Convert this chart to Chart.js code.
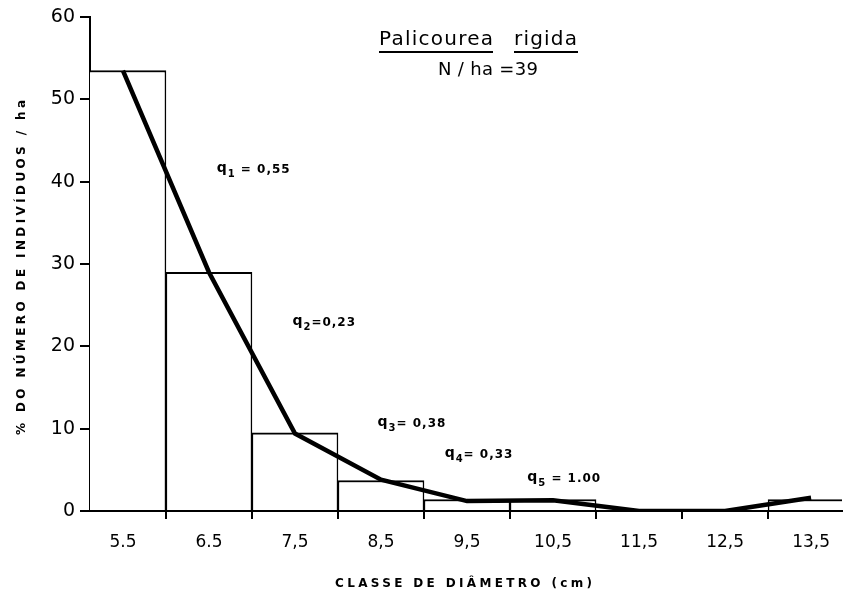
<!DOCTYPE html>
<html>
<head>
<meta charset="utf-8">
<script src="https://cdn.jsdelivr.net/npm/chart.js@4.4.0/dist/chart.umd.min.js"></script>
<style>
  html, body { margin: 0; padding: 0; background: #fff; }
  #wrap { width: 843px; height: 591px; position: relative; }
</style>
</head>
<body>
<div id="wrap"><canvas id="chart"></canvas></div>
<script>
// diameter classes (centre of each 1 cm class) and their tick labels
const classCenters = [5.5, 6.5, 7.5, 8.5, 9.5, 10.5, 11.5, 12.5, 13.5];
const tickLabels = ['5.5', '6.5', '7,5', '8,5', '9,5', '10,5', '11,5', '12,5', '13,5'];
// histogram bars (% of individuals per ha)
const barValues = [53.5, 29, 9.5, 3.7, 1.4, 1.4, 0, 0, 1.4];
// smoothed curve drawn over the bars
const curveValues = [53.5, 29, 9.4, 3.8, 1.2, 1.3, 0, 0, 1.6];
const yTicks = [0, 10, 20, 30, 40, 50, 60];
// q ratios
const qIndex = ['1', '2', '3', '4', '5'];
const qValues = [' = 0,55', '=0,23', '= 0,38', '= 0,33', ' = 1.00'];
const speciesName = ['Palicourea', 'rigida'];
const densityText = 'N / ha =39';
const xTitle = 'CLASSE DE DIÂMETRO (cm)';
const yTitle = '% DO NÚMERO DE INDIVÍDUOS / ha';

const FONT = '"DejaVu Sans", sans-serif';

// draws text stretched by letter spacing to fill a given width
function spacedText(ctx, text, x, y, width) {
    ctx.letterSpacing = '0px';
    const w = ctx.measureText(text).width;
    const sp = text.length > 1 ? (width - w) / (text.length - 1) : 0;
    ctx.letterSpacing = sp + 'px';
    ctx.textAlign = 'left';
    ctx.fillText(text, x, y);
    ctx.letterSpacing = '0px';
}

const annotations = {
    id: 'annotations',
    afterDraw(chart) {
        const ctx = chart.ctx;
        const xs = chart.scales.x, ys = chart.scales.y;
        ctx.save();
        ctx.fillStyle = '#000';
        ctx.strokeStyle = '#000';
        ctx.textBaseline = 'alphabetic';

        // species title with underlines
        ctx.font = '20px ' + FONT;
        spacedText(ctx, speciesName[0], 379, 45, 114);
        spacedText(ctx, speciesName[1], 514, 45, 63);
        ctx.lineWidth = 2;
        ctx.beginPath();
        ctx.moveTo(379, 52); ctx.lineTo(493, 52);
        ctx.moveTo(514, 52); ctx.lineTo(578, 52);
        ctx.stroke();
        ctx.font = '18px ' + FONT;
        spacedText(ctx, densityText, 438, 75, 100);

        // q labels, anchored in data coordinates
        const qPos = [[6.59, 41.0], [7.47, 22.5], [8.46, 10.2], [9.24, 6.4], [10.20, 3.5]];
        qPos.forEach((p, i) => {
            let x = xs.getPixelForValue(p[0]);
            const y = ys.getPixelForValue(p[1]);
            ctx.font = 'bold 14px ' + FONT;
            ctx.fillText('q', x, y - 1);
            x += ctx.measureText('q').width + 1;
            ctx.font = 'bold 10px ' + FONT;
            ctx.fillText(qIndex[i], x, y + 4);
            x += ctx.measureText(qIndex[i]).width + 1;
            ctx.font = 'bold 12px ' + FONT;
            ctx.letterSpacing = '1px';
            ctx.fillText(qValues[i], x, y);
            ctx.letterSpacing = '0px';
        });

        // axis titles
        ctx.font = 'bold 12px ' + FONT;
        spacedText(ctx, xTitle, 335, 587, 257);
        ctx.translate(25, 435);
        ctx.rotate(-Math.PI / 2);
        spacedText(ctx, yTitle, 0, 0, 335);
        ctx.restore();
    }
};

new Chart(document.getElementById('chart'), {
    type: 'bar',
    data: {
        datasets: [
            {
                type: 'line',
                data: classCenters.map((x, i) => ({ x: x, y: curveValues[i] })),
                borderColor: '#000',
                borderWidth: 4.5,
                pointRadius: 0,
                tension: 0,
                order: 0
            },
            {
                type: 'bar',
                data: classCenters.map((x, i) => ({ x: x, y: barValues[i] })),
                backgroundColor: '#fff',
                borderColor: '#000',
                borderWidth: { left: 1.5, right: 1.5, top: 2, bottom: 0 },
                borderSkipped: 'bottom',
                barPercentage: 1,
                categoryPercentage: 1,
                order: 1
            }
        ]
    },
    options: {
        responsive: true,
        maintainAspectRatio: false,
        animation: false,
        layout: { padding: { top: 17, left: 0, right: 0, bottom: 0 } },
        plugins: {
            legend: { display: false },
            tooltip: { enabled: false },
            title: { display: false }
        },
        scales: {
            x: {
                type: 'linear',
                offset: false,
                min: 5.117,
                max: 13.86,
                afterBuildTicks: s => { s.ticks = classCenters.map(v => ({ value: v })); },
                afterFit: s => { s.height = 80; },
                ticks: {
                    callback: (v, i) => tickLabels[i],
                    color: '#000',
                    font: { family: FONT, size: 17 },
                    padding: 13,
                    maxRotation: 0,
                    autoSkip: false
                },
                grid: {
                    display: true,
                    drawOnChartArea: false,
                    drawTicks: true,
                    tickLength: 8,
                    color: '#000',
                    lineWidth: 2
                },
                border: { display: true, color: '#000', width: 2 }
            },
            y: {
                min: 0,
                max: 60,
                afterBuildTicks: s => { s.ticks = yTicks.map(v => ({ value: v })); },
                afterFit: s => { s.width = 90; },
                ticks: {
                    color: '#000',
                    font: { family: FONT, size: 19 },
                    padding: 5
                },
                grid: {
                    display: true,
                    drawOnChartArea: false,
                    drawTicks: true,
                    tickLength: 10,
                    color: '#000',
                    lineWidth: 2
                },
                border: { display: true, color: '#000', width: 2 }
            }
        }
    },
    plugins: [annotations]
});
</script>
</body>
</html>
